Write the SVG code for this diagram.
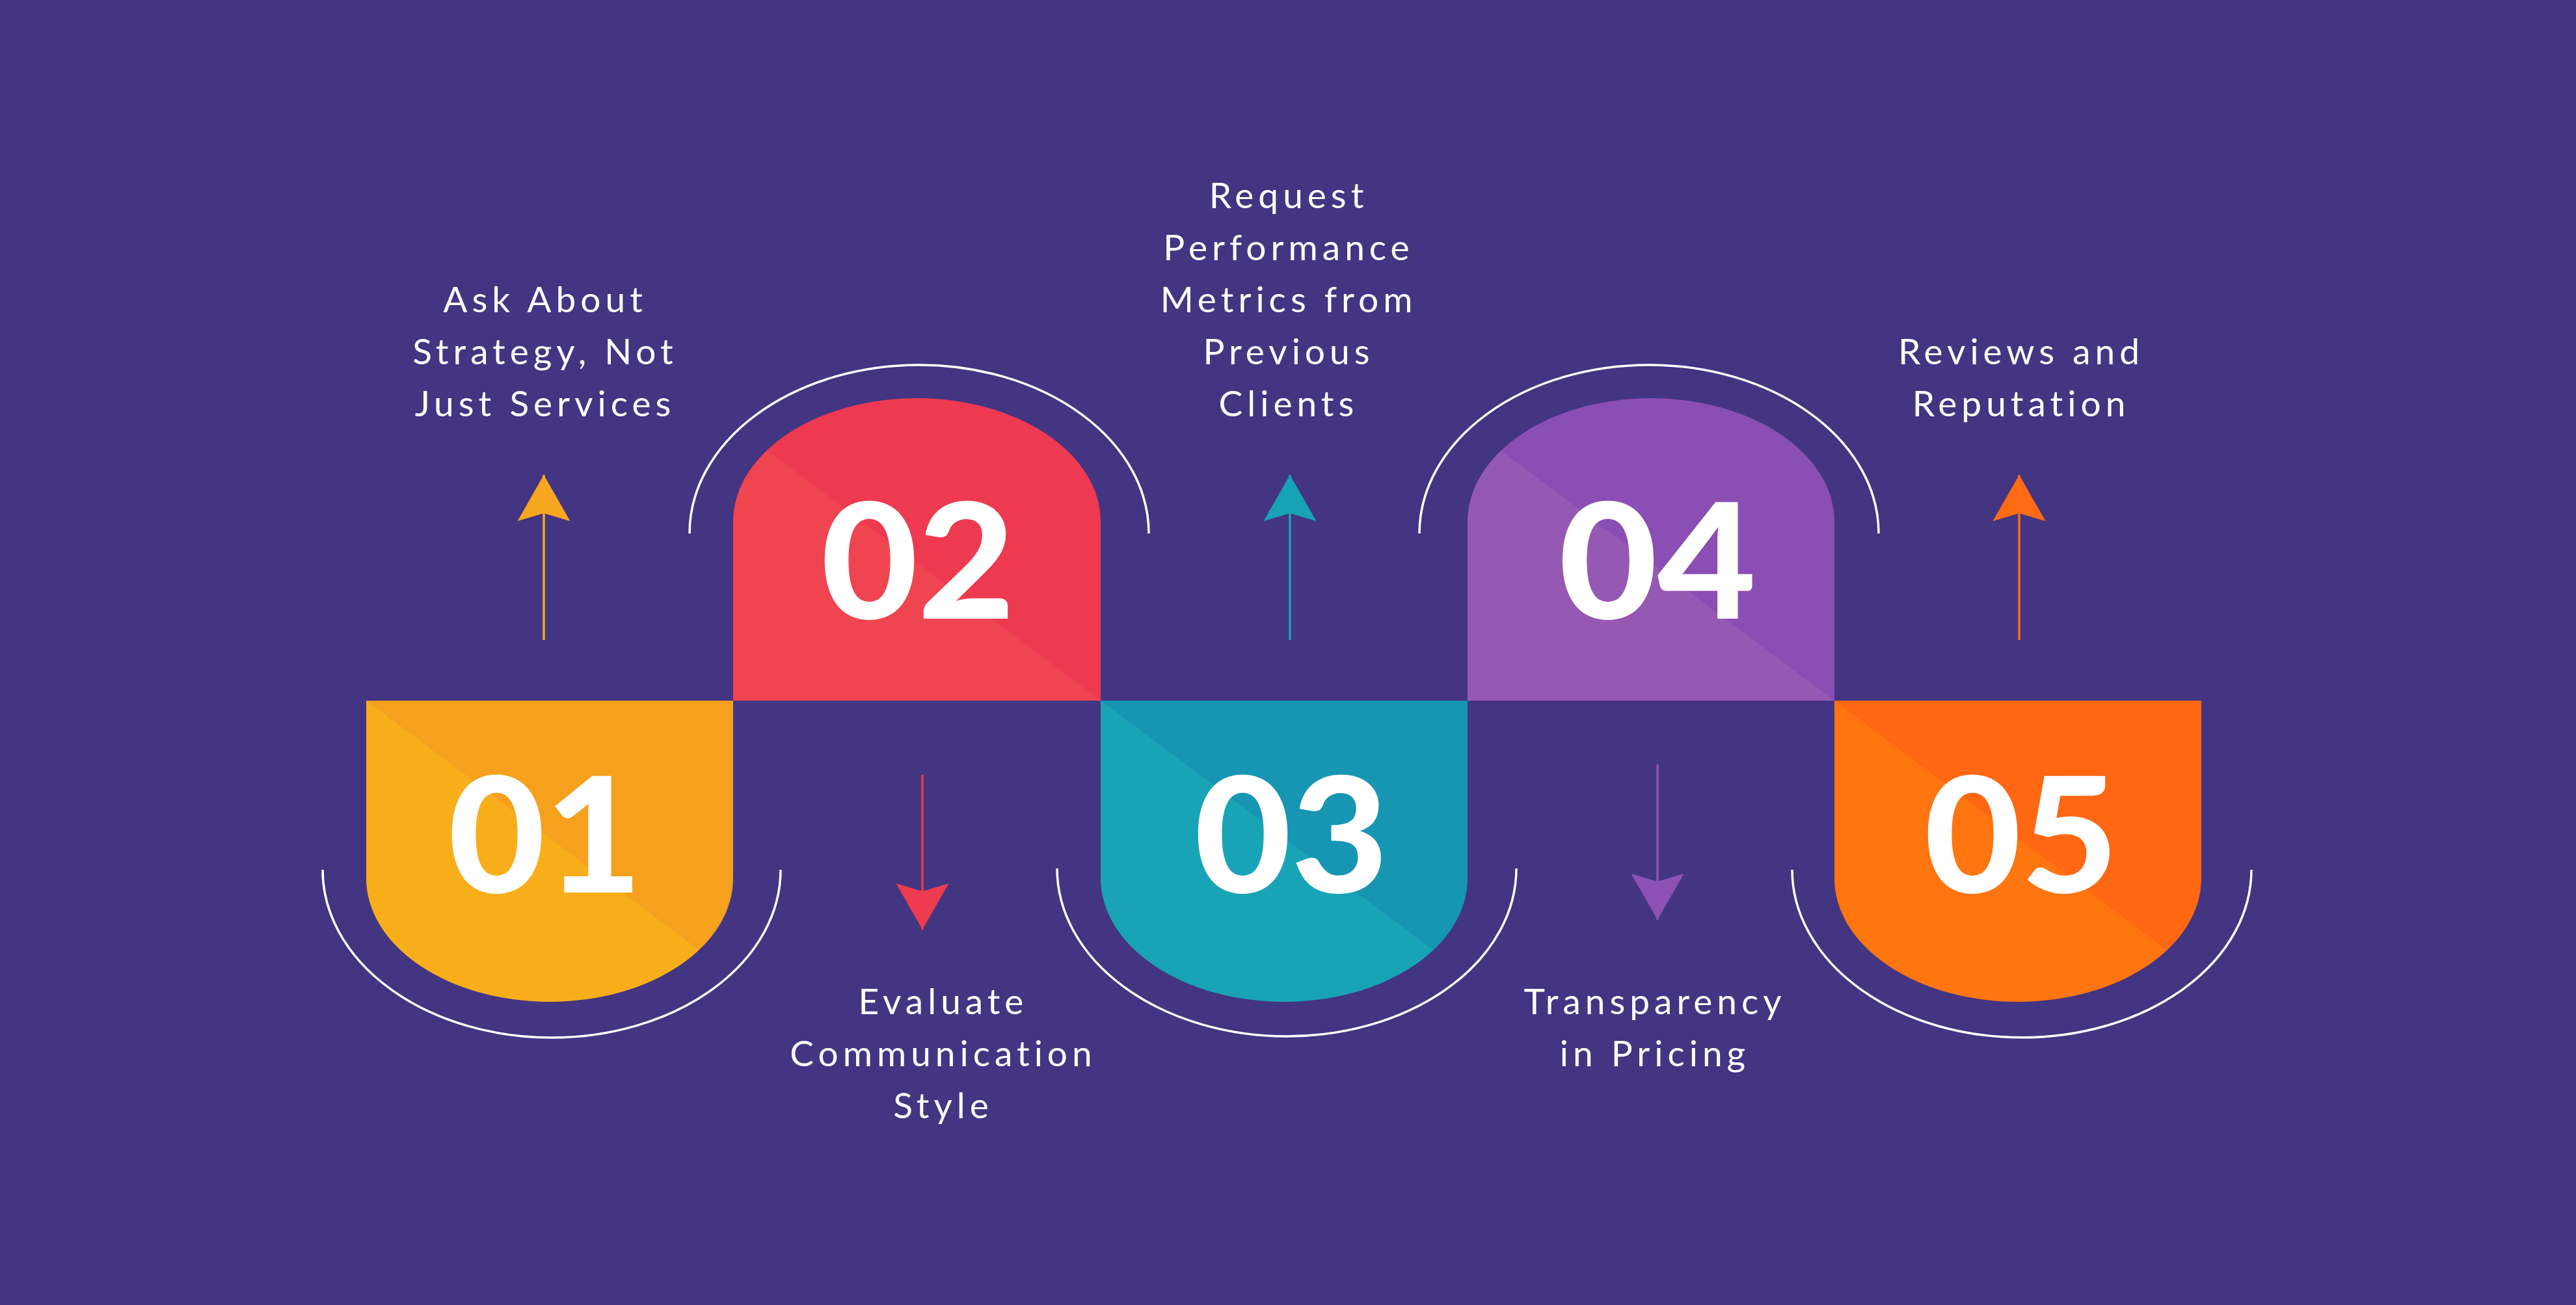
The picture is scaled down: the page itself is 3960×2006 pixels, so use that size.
<svg xmlns="http://www.w3.org/2000/svg" width="3960" height="2006" viewBox="0 0 3960 2006">
<style>
.lbl{font-family:Lato,"Noto Sans","Liberation Sans",sans-serif;font-size:55px;fill:#fff;text-anchor:middle;letter-spacing:7px}
.num{font-family:Lato,"Noto Sans","Liberation Sans",sans-serif;font-size:247px;font-weight:900;fill:#fff;text-anchor:middle}
.ring{fill:none;stroke:#fff;stroke-width:3.5}
.conn line{stroke-width:3.5}
</style>
<defs>
<linearGradient id="g1" gradientUnits="userSpaceOnUse" x1="562.4" y1="1077.8" x2="563.6" y2="1076.2"><stop offset="0" stop-color="#F8AE1B"/><stop offset="0.5" stop-color="#F8AE1B"/><stop offset="0.5" stop-color="#F5A11D"/><stop offset="1" stop-color="#F5A11D"/></linearGradient>
<linearGradient id="g2" gradientUnits="userSpaceOnUse" x1="1691.4" y1="1077.8" x2="1692.6" y2="1076.2"><stop offset="0" stop-color="#EF4551"/><stop offset="0.5" stop-color="#EF4551"/><stop offset="0.5" stop-color="#EE3A50"/><stop offset="1" stop-color="#EE3A50"/></linearGradient>
<linearGradient id="g3" gradientUnits="userSpaceOnUse" x1="1691.4" y1="1077.8" x2="1692.6" y2="1076.2"><stop offset="0" stop-color="#19A4B6"/><stop offset="0.5" stop-color="#19A4B6"/><stop offset="0.5" stop-color="#1696B3"/><stop offset="1" stop-color="#1696B3"/></linearGradient>
<linearGradient id="g4" gradientUnits="userSpaceOnUse" x1="2819.4" y1="1077.8" x2="2820.6" y2="1076.2"><stop offset="0" stop-color="#9659B3"/><stop offset="0.5" stop-color="#9659B3"/><stop offset="0.5" stop-color="#8A4EB4"/><stop offset="1" stop-color="#8A4EB4"/></linearGradient>
<linearGradient id="g5" gradientUnits="userSpaceOnUse" x1="2819.4" y1="1077.8" x2="2820.6" y2="1076.2"><stop offset="0" stop-color="#FF750F"/><stop offset="0.5" stop-color="#FF750F"/><stop offset="0.5" stop-color="#FF6713"/><stop offset="1" stop-color="#FF6713"/></linearGradient>
<marker id="a1" markerUnits="userSpaceOnUse" viewBox="-72 -41 73 82" refX="0" refY="0" markerWidth="73" markerHeight="82" orient="auto"><path d="M0,0 L-71,-40.5 L-59,0 L-71,40.5 Z" fill="#F6A71F"/></marker>
<marker id="a2" markerUnits="userSpaceOnUse" viewBox="-72 -41 73 82" refX="0" refY="0" markerWidth="73" markerHeight="82" orient="auto"><path d="M0,0 L-71,-40.5 L-59,0 L-71,40.5 Z" fill="#EE3B50"/></marker>
<marker id="a3" markerUnits="userSpaceOnUse" viewBox="-72 -41 73 82" refX="0" refY="0" markerWidth="73" markerHeight="82" orient="auto"><path d="M0,0 L-71,-40.5 L-59,0 L-71,40.5 Z" fill="#18A2B5"/></marker>
<marker id="a4" markerUnits="userSpaceOnUse" viewBox="-72 -41 73 82" refX="0" refY="0" markerWidth="73" markerHeight="82" orient="auto"><path d="M0,0 L-71,-40.5 L-59,0 L-71,40.5 Z" fill="#8E51B5"/></marker>
<marker id="a5" markerUnits="userSpaceOnUse" viewBox="-72 -41 73 82" refX="0" refY="0" markerWidth="73" markerHeight="82" orient="auto"><path d="M0,0 L-71,-40.5 L-59,0 L-71,40.5 Z" fill="#FF6A13"/></marker>
</defs>
<rect width="3960" height="2006" fill="#433582"/>

<g id="node01">
<path d="M563,1077 H1127 V1350 A282,190 0 0 1 845,1540 A282,190 0 0 1 563,1350 Z" fill="url(#g1)"/>
<path class="ring" d="M496,1337 A352,258 0 0 0 1200,1337"/>
<text class="num" x="838" y="1372" transform="matrix(1.04 0 0 1 -33.52 0)">01</text>
</g>
<g id="node02">
<path d="M1127,1077 V802 A282.5,190 0 0 1 1409.5,612 A282.5,190 0 0 1 1692,802 V1077 Z" fill="url(#g2)"/>
<path class="ring" d="M1060,820 A353,259 0 0 1 1766,820"/>
<text class="num" x="1411" y="951" transform="matrix(1.04 0 0 1 -56.44 0)">02</text>
</g>
<g id="node03">
<path d="M1692,1077 H2256 V1350 A282,190 0 0 1 1974,1540 A282,190 0 0 1 1692,1350 Z" fill="url(#g3)"/>
<path class="ring" d="M1625,1335 A353,258 0 0 0 2331,1335"/>
<text class="num" x="1985" y="1372" transform="matrix(1.04 0 0 1 -79.4 0)">03</text>
</g>
<g id="node04">
<path d="M2256,1077 V802 A282,190 0 0 1 2538,612 A282,190 0 0 1 2820,802 V1077 Z" fill="url(#g4)"/>
<path class="ring" d="M2182,820 A353,259 0 0 1 2888,820"/>
<text class="num" x="2548" y="951" transform="matrix(1.06 0 0 1 -152.88 0)">04</text>
</g>
<g id="node05">
<path d="M2820,1077 H3384 V1350 A282,190 0 0 1 3102,1540 A282,190 0 0 1 2820,1350 Z" fill="url(#g5)"/>
<path class="ring" d="M2755,1337 A353,258 0 0 0 3461,1337"/>
<text class="num" x="3107" y="1372" transform="matrix(1.04 0 0 1 -124.28 0)">05</text>
</g>

<g id="connectors" class="conn">
<line x1="836" y1="984" x2="836" y2="730" stroke="#F6A71F" marker-end="url(#a1)"/>
<line x1="1418" y1="1191" x2="1418" y2="1429" stroke="#EE3B50" marker-end="url(#a2)"/>
<line x1="1983" y1="984" x2="1983" y2="730" stroke="#18A2B5" marker-end="url(#a3)"/>
<line x1="2548" y1="1175" x2="2548" y2="1414" stroke="#8E51B5" marker-end="url(#a4)"/>
<line x1="3104" y1="984" x2="3104" y2="730" stroke="#FF6A13" marker-end="url(#a5)"/>
</g>

<g id="labels">
<text class="lbl" x="838" y="480">Ask About</text>
<text class="lbl" x="838" y="560">Strategy, Not</text>
<text class="lbl" x="838" y="640">Just Services</text>
<text class="lbl" x="1981" y="320">Request</text>
<text class="lbl" x="1981" y="400">Performance</text>
<text class="lbl" x="1981" y="480">Metrics from</text>
<text class="lbl" x="1981" y="560">Previous</text>
<text class="lbl" x="1981" y="640">Clients</text>
<text class="lbl" x="3107" y="560">Reviews and</text>
<text class="lbl" x="3107" y="640">Reputation</text>
<text class="lbl" x="1450" y="1559">Evaluate</text>
<text class="lbl" x="1450" y="1639">Communication</text>
<text class="lbl" x="1450" y="1719">Style</text>
<text class="lbl" x="2544" y="1559">Transparency</text>
<text class="lbl" x="2544" y="1639">in Pricing</text>
</g>
</svg>
